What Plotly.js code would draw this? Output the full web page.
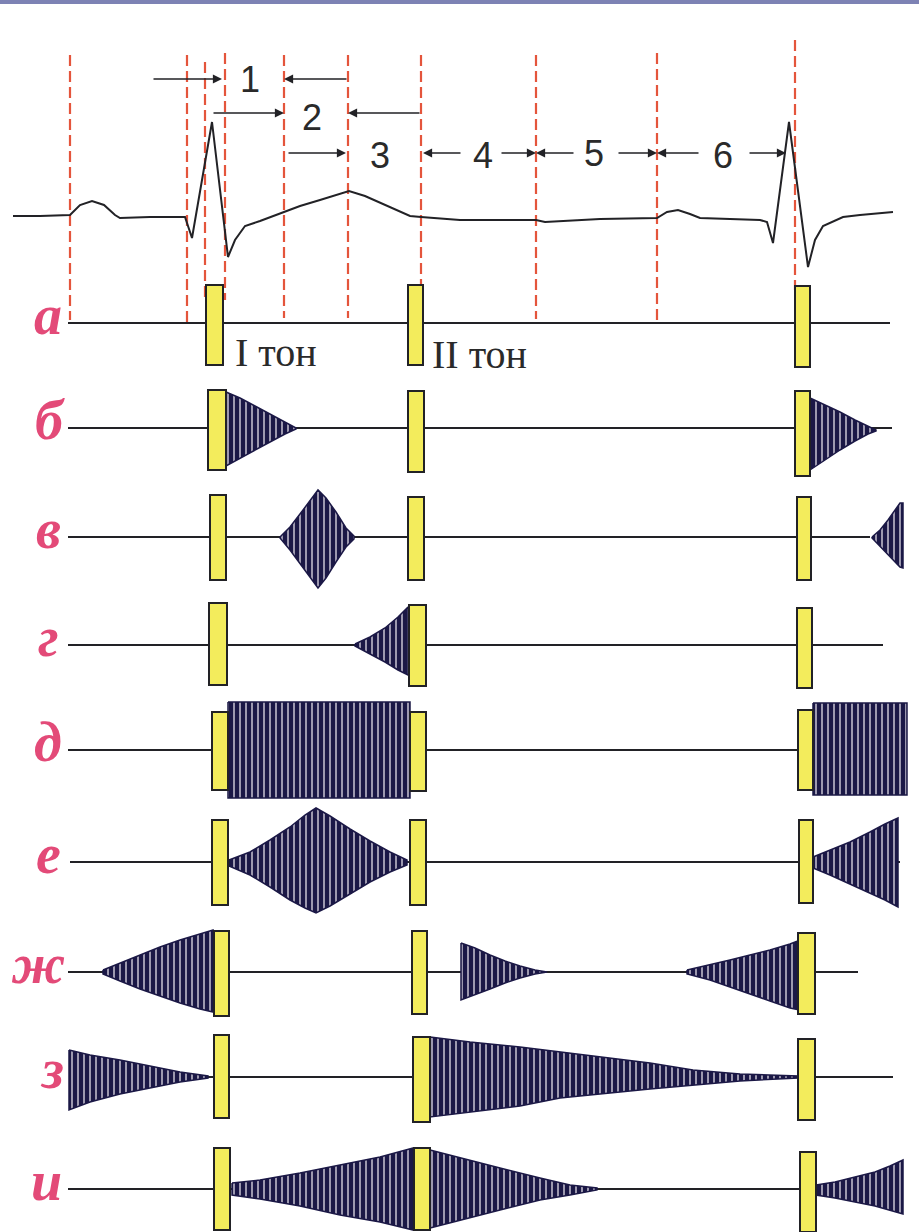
<!DOCTYPE html>
<html>
<head>
<meta charset="utf-8">
<script src="https://cdn.plot.ly/plotly-3.0.1.min.js"></script>
<style>html,body{margin:0;padding:0;background:#fff;}#chart{width:919px;height:1232px;}</style>
</head>
<body>
<div id="chart"></div>
<script>
// ---------- DATA (in drawing units) ----------
// ECG trace
const ecgX = [13,40,70,80,92,104,115,120,150,185,192,212,228,235,245,260,284,300,320,349,365,385,410,421,460,536,545,600,657,667,678,690,700,760,767,773,789,808,815,823,843,860,893];
const ecgY = [216,216,215,205,201,205,215,218,217,217,238,122,257,240,226,221,212,206,200,191,196,205,216,217,220,220,222,219,218,212,210,214,218,220,222,243,122,267,240,226,217,215,212];

// red dashed phase markers
const dashX      = [70, 187, 205, 225, 284, 348, 421, 536, 657, 795];
const dashTop    = [55, 55, 62, 53, 55, 55, 55, 55, 53, 40];
const dashBottom = [320, 322, 300, 300, 318, 318, 300, 319, 323, 290];

// phase interval labels
const phaseLabels = ['1','2','3','4','5','6'];
const phaseLabelX = [250, 312, 380, 483, 594, 723];
const phaseLabelY = [79, 117, 155, 155, 153, 155];
// interval arrows: tail -> head
const arrTailX = [152, 348, 212, 421, 287, 462, 500, 575, 617, 700, 748];
const arrHeadX = [222, 284, 284, 348, 346, 423, 536, 536, 657, 657, 786];
const arrY     = [79, 79, 113, 113, 153, 153, 153, 153, 153, 153, 153];

// rows of the phonocardiogram
const rowLabels = ['а','б','в','г','д','е','ж','з','и'];
const rowLabelX = [48, 50, 48, 48, 48, 48, 38, 52, 46];
const rowY      = [323, 428, 537, 645, 750, 862, 972, 1077, 1189];
const rowStart  = [68, 68, 68, 68, 68, 70, 68, 70, 68];
const rowEnd    = [890, 892, 870, 883, 905, 900, 858, 893, 880];

// heart tones (yellow bars): per row, three tones
const toneX0 = [[206,408,795],[208,408,795],[210,408,797],[209,409,797],[212,410,798],[212,410,799],[214,412,798],[214,413,798],[214,414,800]];
const toneX1 = [[223,423,810],[226,424,810],[226,424,811],[227,426,812],[228,426,813],[228,426,813],[229,427,815],[229,430,815],[230,430,816]];
const toneY0 = [[285,285,286],[390,391,391],[495,497,497],[603,605,608],[712,712,710],[820,820,820],[931,931,933],[1035,1037,1039],[1148,1148,1152]];
const toneY1 = [[365,365,367],[470,472,476],[580,580,580],[685,686,688],[790,791,790],[905,905,903],[1016,1014,1014],[1118,1122,1120],[1230,1230,1232]];

// tone labels
const toneText = ['I тон', 'II тон'];
const toneTextX = [233, 430];
const toneTextY = [352, 354];

// murmur envelopes: x, upper edge, lower edge
const murB1X = [226,240,255,270,285,296], murB1T = [392,398,406,414,422,428], murB1B = [466,458,450,442,434,429];
const murB2X = [810,825,840,855,868,876], murB2T = [398,405,412,420,426,430], murB2B = [470,460,450,441,434,431];
const murV1X = [280,290,300,310,318,326,336,346,354], murV1T = [537,527,514,500,490,498,512,528,536], murV1B = [538,550,563,577,588,578,562,547,539];
const murV2X = [872,880,888,895,900,903], murV2T = [537,530,520,510,503,503], murV2B = [538,546,555,562,567,568];
const murG1X = [355,370,385,398,408], murG1T = [644,637,628,617,607], murG1B = [646,654,662,670,675];
const murD1X = [228,410], murD1T = [702,702], murD1B = [798,798];
const murD2X = [813,907], murD2T = [703,703], murD2B = [795,795];
const murE1X = [229,250,270,290,305,316,330,350,370,390,407], murE1T = [860,852,840,827,815,808,816,829,841,852,860], murE1B = [866,875,887,900,908,913,906,894,882,872,865];
const murE2X = [813,830,850,870,885,898], murE2T = [857,850,842,832,824,818], murE2B = [868,875,884,893,900,907];
const murZh1X = [103,120,140,160,180,200,213], murZh1T = [970,963,955,947,940,934,930], murZh1B = [974,981,989,996,1003,1009,1012];
const murZh2X = [461,475,490,505,520,535,547], murZh2T = [943,948,955,961,966,970,972], murZh2B = [1000,995,989,983,978,974,972];
const murZh3X = [687,710,730,750,770,790,800], murZh3T = [970,965,960,955,950,944,940], murZh3B = [974,980,987,994,1001,1008,1010];
const murZ1X = [69,90,120,150,180,208], murZ1T = [1050,1055,1060,1066,1072,1076], murZ1B = [1110,1102,1094,1088,1082,1078];
const murZ2X = [430,470,520,560,610,650,693,740,798], murZ2T = [1037,1042,1047,1052,1058,1063,1070,1074,1076], murZ2B = [1117,1112,1106,1098,1093,1089,1085,1081,1078];
const murI1X = [232,260,300,340,380,413], murI1T = [1183,1180,1173,1165,1157,1148], murI1B = [1195,1199,1206,1215,1222,1230];
const murI2X = [430,460,500,540,570,597], murI2T = [1150,1158,1168,1178,1185,1188], murI2B = [1228,1220,1210,1200,1195,1190];
const murI3X = [816,835,855,875,890,903], murI3T = [1185,1182,1177,1172,1166,1160], murI3B = [1195,1198,1202,1206,1210,1214];

const murmurs = [
  [murB1X,murB1T,murB1B],[murB2X,murB2T,murB2B],
  [murV1X,murV1T,murV1B],[murV2X,murV2T,murV2B],
  [murG1X,murG1T,murG1B],
  [murD1X,murD1T,murD1B],[murD2X,murD2T,murD2B],
  [murE1X,murE1T,murE1B],[murE2X,murE2T,murE2B],
  [murZh1X,murZh1T,murZh1B],[murZh2X,murZh2T,murZh2B],[murZh3X,murZh3T,murZh3B],
  [murZ1X,murZ1T,murZ1B],[murZ2X,murZ2T,murZ2B],
  [murI1X,murI1T,murI1B],[murI2X,murI2T,murI2B],[murI3X,murI3T,murI3B]
];

// ---------- STYLE ----------
const INK = '#222226';
const MURMUR = '#1b1846';
const RED = '#e4553c';
const YELLOW = '#f3ec5c';
const PINK = '#e34a78';

// ---------- BUILD ----------
const traces = [];

// row baselines
const blX = [], blY = [];
rowY.forEach((y, i) => { blX.push(rowStart[i], rowEnd[i], null); blY.push(y, y, null); });
traces.push({x: blX, y: blY, mode: 'lines', line: {color: INK, width: 1.8}, hoverinfo: 'skip'});

// ECG
traces.push({x: ecgX, y: ecgY, mode: 'lines', line: {color: INK, width: 2}, hoverinfo: 'skip'});

// murmurs
murmurs.forEach(([mx, mt, mb]) => {
  const px = mx.concat(mx.slice().reverse());
  const py = mt.concat(mb.slice().reverse());
  px.push(mx[0]); py.push(mt[0]);
  traces.push({
    x: px, y: py, mode: 'lines', fill: 'toself',
    line: {color: MURMUR, width: 1.5},
    fillcolor: MURMUR,
    fillpattern: {shape: '|', fgcolor: MURMUR, bgcolor: '#f4f0f6', size: 6, solidity: 0.8, fillmode: 'replace'},
    hoverinfo: 'skip'
  });
});

const shapes = [];
// top strip
shapes.push({type: 'rect', xref: 'x', yref: 'y', x0: 0, x1: 919, y0: 0, y1: 4, line: {width: 0}, fillcolor: '#7d82b4', layer: 'above'});

// dashed markers
dashX.forEach((x, i) => {
  shapes.push({type: 'line', xref: 'x', yref: 'y', x0: x, x1: x, y0: dashTop[i], y1: dashBottom[i],
    line: {color: RED, width: 2.2, dash: '11px,5px'}, layer: 'below'});
});

// tones
toneX0.forEach((row, r) => {
  row.forEach((x0, k) => {
    shapes.push({type: 'rect', xref: 'x', yref: 'y', x0: x0, x1: toneX1[r][k], y0: toneY0[r][k], y1: toneY1[r][k],
      line: {color: INK, width: 2}, fillcolor: YELLOW, layer: 'above'});
  });
});

const annotations = [];
// arrows
arrTailX.forEach((tx, i) => {
  annotations.push({x: arrHeadX[i], y: arrY[i], ax: tx, ay: arrY[i], xref: 'x', yref: 'y', axref: 'x', ayref: 'y',
    text: '', showarrow: true, arrowhead: 2, arrowsize: 1.3, arrowwidth: 1.4, arrowcolor: INK, standoff: 0});
});
// phase numbers
phaseLabels.forEach((t, i) => {
  annotations.push({x: phaseLabelX[i], y: phaseLabelY[i], xref: 'x', yref: 'y', text: t, showarrow: false,
    font: {family: 'Liberation Sans, Arial, sans-serif', size: 36, color: '#2a2a2a'}, xanchor: 'center', yanchor: 'middle'});
});
// row letters
rowLabels.forEach((t, i) => {
  annotations.push({x: rowLabelX[i], y: rowY[i] - 8, xref: 'x', yref: 'y', text: t, showarrow: false,
    font: {family: 'Liberation Serif, Times New Roman, serif', size: 56, color: PINK, weight: 'bold', style: 'italic'},
    xanchor: 'center', yanchor: 'middle'});
});
// tone labels
toneText.forEach((t, i) => {
  annotations.push({x: toneTextX[i], y: toneTextY[i], xref: 'x', yref: 'y', text: t, showarrow: false,
    font: {family: 'Liberation Serif, Times New Roman, serif', size: 40, color: '#2a2a2a'},
    xanchor: 'left', yanchor: 'middle'});
});

const layout = {
  width: 919, height: 1232,
  margin: {l: 0, r: 0, t: 0, b: 0},
  paper_bgcolor: '#ffffff', plot_bgcolor: '#ffffff',
  showlegend: false,
  xaxis: {range: [0, 919], visible: false, fixedrange: true},
  yaxis: {range: [1232, 0], visible: false, fixedrange: true},
  shapes: shapes,
  annotations: annotations
};

Plotly.newPlot('chart', traces, layout, {displayModeBar: false, staticPlot: true});
</script>
</body>
</html>
